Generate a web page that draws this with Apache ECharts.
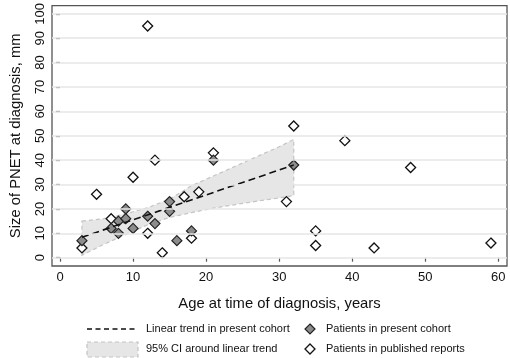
<!DOCTYPE html>
<html>
<head>
<meta charset="utf-8">
<script src="https://cdn.jsdelivr.net/npm/echarts@6/dist/echarts.min.js"></script>
<style>
    html, body {margin: 0; padding: 0; background: #fff;}
    #chart {width: 510px; height: 358px;}
</style>
</head>
<body>
<div id="chart"></div>
<script>
// patients in present cohort: [age, size]
var cohortAge = [3, 7, 8, 8, 9, 9, 10, 12, 13, 15, 15, 16, 18, 21, 32];
var cohortSize = [7, 12, 15, 10, 20, 16, 12, 17, 14, 23, 19, 7, 11, 40, 38];

// patients in published reports
var reportAge = [3, 5, 7, 10, 12, 12, 13, 14, 17, 18, 19, 21, 31, 32, 35, 35, 39, 43, 48, 59];
var reportSize = [4, 26, 16, 33, 95, 10, 40, 2, 25, 8, 27, 43, 23, 54, 11, 5, 48, 4, 37, 6];

// linear trend and its 95% CI
var trendAge = [3, 32];
var trendSize = [8.4, 38];
var ciAge = [3, 6, 9, 12, 15, 18, 21, 24, 27, 30, 32];
var ciLower = [1, 5.5, 9.5, 13.5, 16.5, 18.5, 20.3, 21.8, 23.2, 24.5, 25.5];
var ciUpper = [15, 16, 18, 20.5, 24, 29.5, 33.5, 37.5, 41.5, 45.5, 48.5];

// tick labels
var xTicks = [0, 10, 20, 30, 40, 50, 60];
var yTicks = [0, 10, 20, 30, 40, 50, 60, 70, 80, 90, 100];

var FONT = '"Liberation Sans", Arial, sans-serif';
var DIAMOND = 'path://M0,-1L1,0L0,1L-1,0Z';

function pairs(xs, ys) {
    var out = [];
    for (var i = 0; i < xs.length; i++) {
        out.push([xs[i], ys[i]]);
    }
    return out;
}

// small diamond for the legend
function legendDiamond(cx, cy) {
    return [[cx, cy - 5], [cx + 5, cy], [cx, cy + 5], [cx - 5, cy]];
}

var bandData = [];
for (var i = 0; i < ciAge.length; i++) {
    bandData.push([ciAge[i], ciLower[i], ciUpper[i]]);
}

var myChart = echarts.init(document.getElementById('chart'), null, {renderer: 'canvas'});

var option = {
    animation: false,
    grid: {
        left: 46,
        right: 3,
        top: 4,
        bottom: 92,
        show: true,
        borderColor: '#555',
        borderWidth: 1.3,
        backgroundColor: '#fff'
    },
    xAxis: {
        type: 'value',
        min: -1.1,
        max: 61.2,
        name: 'Age at time of diagnosis, years',
        nameLocation: 'middle',
        nameGap: 30,
        nameTextStyle: {fontFamily: FONT, fontSize: 14.8, color: '#111'},
        axisLine: {show: false},
        axisTick: {show: true, length: 4, customValues: xTicks, lineStyle: {color: '#555', width: 1.2}},
        axisLabel: {customValues: xTicks, fontFamily: FONT, fontSize: 13, color: '#111', margin: 5},
        splitLine: {show: false}
    },
    yAxis: {
        type: 'value',
        min: -3.4,
        max: 103.4,
        name: 'Size of PNET at diagnosis, mm',
        nameLocation: 'middle',
        nameGap: 29,
        nameTextStyle: {fontFamily: FONT, fontSize: 14.8, color: '#111'},
        axisLine: {show: false},
        axisTick: {show: true, length: 4, customValues: yTicks, lineStyle: {color: '#555', width: 1.2}},
        axisLabel: {customValues: yTicks, rotate: 90, fontFamily: FONT, fontSize: 13, color: '#111', margin: 5},
        splitLine: {show: false}
    },
    series: [
        {
            // horizontal grid lines at each y tick
            type: 'line',
            data: [],
            silent: true,
            markLine: {
                silent: true,
                symbol: 'none',
                label: {show: false},
                lineStyle: {color: '#e6e6e6', width: 1.5, type: 'solid'},
                data: yTicks.map(function (v) {
                    return {yAxis: v};
                })
            }
        },
        {
            // 95% CI band: upper edge forward, lower edge back
            type: 'custom',
            silent: true,
            data: bandData,
            renderItem: function (params, api) {
                if (params.dataIndex !== 0) {
                    return;
                }
                var pts = [];
                var i;
                for (i = 0; i < bandData.length; i++) {
                    pts.push(api.coord([bandData[i][0], bandData[i][2]]));
                }
                for (i = bandData.length - 1; i >= 0; i--) {
                    pts.push(api.coord([bandData[i][0], bandData[i][1]]));
                }
                return {
                    type: 'polygon',
                    shape: {points: pts},
                    style: {
                        fill: '#e6e6e6',
                        stroke: '#c4c4c4',
                        lineWidth: 1.2,
                        lineDash: [4, 3]
                    }
                };
            }
        },
        {
            // linear trend
            type: 'line',
            data: pairs(trendAge, trendSize),
            symbol: 'none',
            lineStyle: {color: '#111', width: 1.6, type: [7, 4]}
        },
        {
            type: 'scatter',
            data: pairs(reportAge, reportSize),
            symbol: DIAMOND,
            symbolSize: 10,
            itemStyle: {color: '#fff', borderColor: '#111', borderWidth: 1.3, opacity: 1}
        },
        {
            type: 'scatter',
            data: pairs(cohortAge, cohortSize),
            symbol: DIAMOND,
            symbolSize: 10,
            itemStyle: {color: '#8c8c8c', borderColor: '#222', borderWidth: 1.2, opacity: 1}
        }
    ],
    // legend drawn by hand, two columns
    graphic: [
        {type: 'line', shape: {x1: 87, y1: 329, x2: 137, y2: 329},
            style: {stroke: '#111', lineWidth: 1.4, lineDash: [5, 3.5]}},
        {type: 'text', x: 146, y: 323, style: {text: 'Linear trend in present cohort', font: '11px ' + FONT, fill: '#111'}},
        {type: 'rect', shape: {x: 87, y: 342, width: 51, height: 15},
            style: {fill: '#e6e6e6', stroke: '#c4c4c4', lineWidth: 1.2, lineDash: [4, 3]}},
        {type: 'text', x: 146, y: 343, style: {text: '95% CI around linear trend', font: '11px ' + FONT, fill: '#111'}},
        {type: 'polygon', shape: {points: legendDiamond(310, 329)},
            style: {fill: '#8c8c8c', stroke: '#222', lineWidth: 1.2}},
        {type: 'text', x: 326, y: 323, style: {text: 'Patients in present cohort', font: '11px ' + FONT, fill: '#111'}},
        {type: 'polygon', shape: {points: legendDiamond(310, 349)},
            style: {fill: '#fff', stroke: '#111', lineWidth: 1.3}},
        {type: 'text', x: 326, y: 343, style: {text: 'Patients in published reports', font: '11px ' + FONT, fill: '#111'}}
    ]
};

myChart.setOption(option);
</script>
</body>
</html>
